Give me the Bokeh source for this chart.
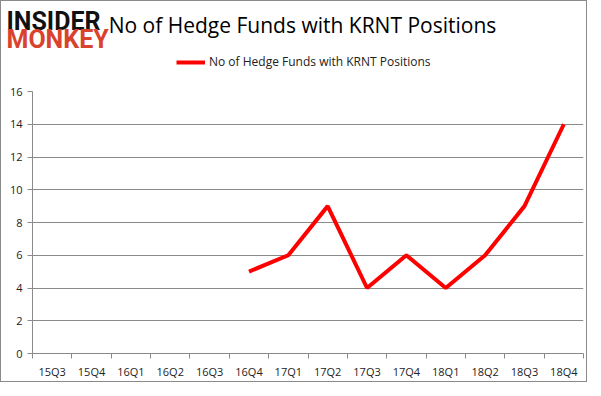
from bokeh.plotting import figure
from bokeh.models import ColumnDataSource, FixedTicker, Range1d, Legend, LegendItem
from bokeh.layouts import column
from bokeh.core.properties import value
from bokeh.embed import file_html
from bokeh.resources import INLINE
import numpy as np

quarters = ["15Q3", "15Q4", "16Q1", "16Q2", "16Q3", "16Q4", "17Q1", "17Q2",
            "17Q3", "17Q4", "18Q1", "18Q2", "18Q3", "18Q4"]
funds = [None, None, None, None, None, 5, 6, 9, 4, 6, 4, 6, 9, 14]
y_ticks = [0, 2, 4, 6, 8, 10, 12, 14, 16]
series_name = "No of Hedge Funds with KRNT Positions"
title_text = "No of Hedge Funds with KRNT Positions"

W, H_HEAD, H_CHART = 585, 82, 298
GRAY = "#8a8a8a"
LINE_RED = "#ff0000"

# ---- header (logo + title + legend), pixel-like coordinates ----
head = figure(width=W, height=H_HEAD, output_backend="svg", toolbar_location=None,
              x_range=Range1d(0, W), y_range=Range1d(H_HEAD, 0),
              x_axis_type=None, y_axis_type=None, min_border=0)
head.frame_align = False
head.outline_line_color = None
head.grid.visible = False
head.text(x=[5], y=[20], text=["INSIDER"], text_font=value("Roboto"),
          text_font_style="bold", text_font_size="25px", text_color="#111111",
          text_baseline="alphabetic", text_align="left")
head.text(x=[5], y=[38], text=["MONKEY"], text_font=value("Roboto"),
          text_font_style="bold", text_font_size="25px", text_color="#d9432e",
          text_baseline="alphabetic", text_align="left")
head.text(x=[301], y=[23], text=[title_text], text_font=value("Open Sans"),
          text_font_size="21px", text_color="#000000",
          text_baseline="alphabetic", text_align="center")
# legend sample renderer (a single off-view point, same style as the series line)
legend_src = ColumnDataSource(dict(x=[-50], y=[-50]))
lr = head.line("x", "y", source=legend_src, line_color=LINE_RED, line_width=4)
legend = Legend(items=[LegendItem(label=series_name, renderers=[lr])],
                location=(175, 13), orientation="horizontal",
                margin=0, padding=2, spacing=0,
                glyph_width=29, glyph_height=14, label_height=14,
                label_standoff=4, border_line_color=None,
                background_fill_alpha=0,
                label_text_font="Open Sans", label_text_font_size="12px",
                label_text_color="#222222")
head.add_layout(legend)

# ---- chart ----
xs = list(range(len(quarters)))
ys = [np.nan if v is None else v for v in funds]
src = ColumnDataSource(dict(x=xs, y=ys))

p = figure(width=W, height=H_CHART, output_backend="svg", toolbar_location=None,
           x_range=Range1d(-0.5, len(quarters) - 0.5), y_range=Range1d(0, 16))
p.frame_align = False
p.min_border_left = 31
p.min_border_right = 3
p.min_border_top = 8
p.min_border_bottom = 20
p.outline_line_color = None

p.line("x", "y", source=src, line_color=LINE_RED, line_width=4)

p.yaxis.ticker = FixedTicker(ticks=y_ticks)
p.yaxis.axis_line_color = GRAY
p.yaxis.major_tick_line_color = GRAY
p.yaxis.major_tick_out = 5
p.yaxis.major_tick_in = 0
p.yaxis.minor_tick_line_color = None
p.yaxis.major_label_standoff = 5
p.yaxis.major_label_text_font = "Open Sans"
p.yaxis.major_label_text_font_size = "11px"
p.yaxis.major_label_text_color = "#222222"
p.ygrid.ticker = FixedTicker(ticks=y_ticks)
p.ygrid.grid_line_color = GRAY

p.xaxis.ticker = FixedTicker(ticks=xs, minor_ticks=[i - 0.5 for i in range(len(quarters) + 1)])
p.xaxis.major_label_overrides = {i: q for i, q in enumerate(quarters)}
p.xaxis.axis_line_color = GRAY
p.xaxis.major_tick_line_color = None
p.xaxis.major_tick_out = 0
p.xaxis.major_tick_in = 0
p.xaxis.minor_tick_line_color = GRAY
p.xaxis.minor_tick_out = 5
p.xaxis.minor_tick_in = 0
p.xaxis.major_label_standoff = 5
p.xaxis.major_label_text_font = "Open Sans"
p.xaxis.major_label_text_font_size = "11px"
p.xaxis.major_label_text_color = "#222222"
p.xgrid.grid_line_color = None

layout = column(head, p, spacing=0)
layout.styles = {"border": "1px solid #8a8a8a", "box-sizing": "border-box"}

open("out.html", "w").write(file_html(layout, INLINE))
